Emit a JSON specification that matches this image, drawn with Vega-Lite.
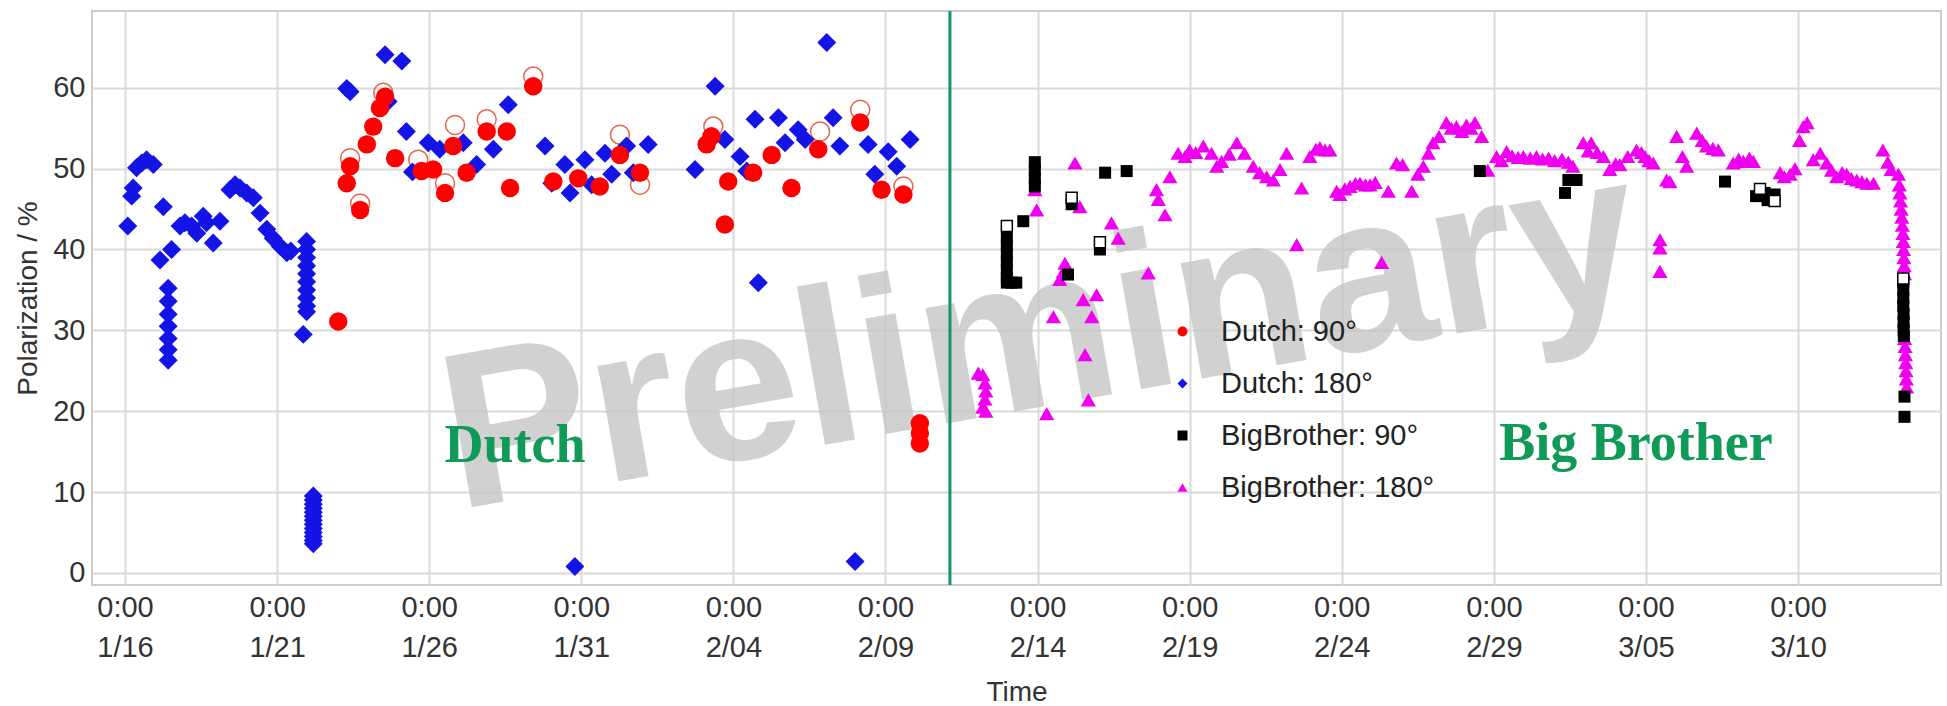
{
  "$schema": "https://vega.github.io/schema/vega-lite/v6.json",
  "autosize": "none",
  "width": 1849,
  "height": 574,
  "padding": {"left": 92, "top": 11, "right": 6, "bottom": 121},
  "background": "white",
  "datasets": {
    "pts": [
      {"series":"D180","day":0.09,"pol":42.9},{"series":"D180","day":0.22,"pol":46.6},{"series":"D180","day":0.27,"pol":47.6},{"series":"D180","day":0.38,"pol":50.1},{"series":"D180","day":0.55,"pol":50.7},{"series":"D180","day":0.71,"pol":51.1},{"series":"D180","day":0.93,"pol":50.5},{"series":"D180","day":1.15,"pol":38.7},{"series":"D180","day":1.26,"pol":45.3},
      {"series":"D180","day":1.42,"pol":35.2},{"series":"D180","day":1.42,"pol":33.6},{"series":"D180","day":1.42,"pol":32.0},{"series":"D180","day":1.42,"pol":30.5},{"series":"D180","day":1.42,"pol":29.0},{"series":"D180","day":1.42,"pol":27.6},{"series":"D180","day":1.42,"pol":26.3},
      {"series":"D180","day":1.53,"pol":40.0},{"series":"D180","day":1.81,"pol":42.9},{"series":"D180","day":1.97,"pol":43.3},{"series":"D180","day":2.19,"pol":42.9},{"series":"D180","day":2.36,"pol":42.0},{"series":"D180","day":2.57,"pol":44.1},{"series":"D180","day":2.68,"pol":43.3},{"series":"D180","day":2.90,"pol":40.8},{"series":"D180","day":3.12,"pol":43.5},{"series":"D180","day":3.45,"pol":47.4},{"series":"D180","day":3.62,"pol":48.0},{"series":"D180","day":3.78,"pol":47.6},{"series":"D180","day":4.00,"pol":47.0},{"series":"D180","day":4.22,"pol":46.4},{"series":"D180","day":4.44,"pol":44.5},{"series":"D180","day":4.66,"pol":42.5},{"series":"D180","day":4.87,"pol":41.4},{"series":"D180","day":5.10,"pol":40.4},{"series":"D180","day":5.32,"pol":39.6},{"series":"D180","day":5.45,"pol":39.8},
      {"series":"D180","day":5.97,"pol":41.0},{"series":"D180","day":5.97,"pol":40.0},{"series":"D180","day":5.97,"pol":39.0},{"series":"D180","day":5.97,"pol":38.0},{"series":"D180","day":5.97,"pol":37.0},{"series":"D180","day":5.97,"pol":36.0},{"series":"D180","day":5.97,"pol":35.0},{"series":"D180","day":5.97,"pol":34.0},{"series":"D180","day":5.97,"pol":33.0},{"series":"D180","day":5.97,"pol":32.3},{"series":"D180","day":5.86,"pol":29.5},
      {"series":"D180","day":6.19,"pol":9.5},{"series":"D180","day":6.19,"pol":9.0},{"series":"D180","day":6.19,"pol":8.5},{"series":"D180","day":6.19,"pol":8.0},{"series":"D180","day":6.19,"pol":7.5},{"series":"D180","day":6.19,"pol":7.0},{"series":"D180","day":6.19,"pol":6.5},{"series":"D180","day":6.19,"pol":6.0},{"series":"D180","day":6.19,"pol":5.5},{"series":"D180","day":6.19,"pol":5.0},{"series":"D180","day":6.19,"pol":4.5},{"series":"D180","day":6.19,"pol":4.0},{"series":"D180","day":6.19,"pol":3.6},
      {"series":"D180","day":7.29,"pol":59.9},{"series":"D180","day":7.40,"pol":59.5},{"series":"D180","day":8.55,"pol":64.1},{"series":"D180","day":9.10,"pol":63.3},{"series":"D180","day":8.65,"pol":58.3},{"series":"D180","day":9.25,"pol":54.6},{"series":"D180","day":9.45,"pol":49.6},{"series":"D180","day":9.97,"pol":53.2},{"series":"D180","day":10.35,"pol":52.4},{"series":"D180","day":11.12,"pol":53.2},{"series":"D180","day":11.56,"pol":50.5},{"series":"D180","day":12.11,"pol":52.4},{"series":"D180","day":12.60,"pol":57.9},{"series":"D180","day":13.81,"pol":52.8},{"series":"D180","day":14.03,"pol":48.2},{"series":"D180","day":14.46,"pol":50.5},{"series":"D180","day":14.63,"pol":47.0},{"series":"D180","day":15.12,"pol":51.1},{"series":"D180","day":15.34,"pol":48.0},{"series":"D180","day":15.78,"pol":51.9},{"series":"D180","day":16.00,"pol":49.3},{"series":"D180","day":16.49,"pol":52.8},{"series":"D180","day":16.71,"pol":49.5},{"series":"D180","day":17.20,"pol":53.0},{"series":"D180","day":18.74,"pol":49.9},{"series":"D180","day":19.40,"pol":60.2},{"series":"D180","day":19.72,"pol":53.6},{"series":"D180","day":20.22,"pol":51.5},{"series":"D180","day":20.44,"pol":49.7},{"series":"D180","day":20.71,"pol":56.1},{"series":"D180","day":20.82,"pol":35.9},{"series":"D180","day":21.48,"pol":56.3},{"series":"D180","day":21.70,"pol":53.2},{"series":"D180","day":22.13,"pol":54.8},{"series":"D180","day":22.36,"pol":53.6},{"series":"D180","day":23.07,"pol":65.6},{"series":"D180","day":23.28,"pol":56.3},{"series":"D180","day":23.50,"pol":52.8},{"series":"D180","day":24.43,"pol":53.0},{"series":"D180","day":24.65,"pol":49.3},{"series":"D180","day":25.09,"pol":52.1},{"series":"D180","day":25.37,"pol":50.3},{"series":"D180","day":25.81,"pol":53.6},{"series":"D180","day":14.79,"pol":0.8},{"series":"D180","day":24.00,"pol":1.4},
      {"series":"D90","day":7.01,"pol":31.1},{"series":"D90","day":7.29,"pol":48.2},{"series":"D90","day":7.40,"pol":50.3},{"series":"D90","day":7.73,"pol":44.9},{"series":"D90","day":7.95,"pol":53.0},{"series":"D90","day":8.16,"pol":55.2},{"series":"D90","day":8.38,"pol":57.5},{"series":"D90","day":8.55,"pol":58.9},{"series":"D90","day":8.88,"pol":51.3},{"series":"D90","day":9.75,"pol":49.7},{"series":"D90","day":10.13,"pol":49.9},{"series":"D90","day":10.52,"pol":47.0},{"series":"D90","day":10.79,"pol":52.8},{"series":"D90","day":11.23,"pol":49.5},{"series":"D90","day":11.89,"pol":54.6},{"series":"D90","day":12.55,"pol":54.6},{"series":"D90","day":12.66,"pol":47.6},{"series":"D90","day":13.42,"pol":60.2},{"series":"D90","day":14.08,"pol":48.4},{"series":"D90","day":14.90,"pol":48.8},{"series":"D90","day":15.61,"pol":47.8},{"series":"D90","day":16.27,"pol":51.7},{"series":"D90","day":16.93,"pol":49.5},{"series":"D90","day":19.12,"pol":53.0},{"series":"D90","day":19.28,"pol":54.0},{"series":"D90","day":19.83,"pol":48.4},{"series":"D90","day":19.72,"pol":43.1},{"series":"D90","day":20.65,"pol":49.5},{"series":"D90","day":21.26,"pol":51.7},{"series":"D90","day":21.91,"pol":47.6},{"series":"D90","day":22.79,"pol":52.4},{"series":"D90","day":24.17,"pol":55.7},{"series":"D90","day":24.87,"pol":47.4},{"series":"D90","day":25.59,"pol":46.8},{"series":"D90","day":26.13,"pol":18.5},{"series":"D90","day":26.13,"pol":17.3},{"series":"D90","day":26.13,"pol":16.0},
      {"series":"B180","day":28.05,"pol":24.7},{"series":"B180","day":28.2,"pol":24.5},{"series":"B180","day":28.27,"pol":23.5},{"series":"B180","day":28.3,"pol":22.5},{"series":"B180","day":28.27,"pol":21.5},{"series":"B180","day":28.2,"pol":20.5},{"series":"B180","day":28.3,"pol":20.0},{"series":"B180","day":30.30,"pol":19.7},{"series":"B180","day":31.67,"pol":21.4},{"series":"B180","day":31.56,"pol":27.0},{"series":"B180","day":30.52,"pol":31.7},{"series":"B180","day":31.50,"pol":33.8},{"series":"B180","day":31.94,"pol":34.4},{"series":"B180","day":31.78,"pol":31.7},{"series":"B180","day":30.73,"pol":36.3},{"series":"B180","day":30.90,"pol":38.3},{"series":"B180","day":30.85,"pol":37.3},{"series":"B180","day":29.97,"pol":44.9},{"series":"B180","day":29.91,"pol":47.4},{"series":"B180","day":31.23,"pol":50.7},{"series":"B180","day":31.39,"pol":45.3},{"series":"B180","day":32.43,"pol":43.3},{"series":"B180","day":32.65,"pol":41.4},{"series":"B180","day":33.64,"pol":37.1},{"series":"B180","day":33.97,"pol":46.2},{"series":"B180","day":33.91,"pol":47.4},{"series":"B180","day":34.19,"pol":44.3},{"series":"B180","day":34.35,"pol":49.0},
      {"series":"B180","day":34.62,"pol":51.9},{"series":"B180","day":34.85,"pol":51.5},{"series":"B180","day":35.00,"pol":52.3},{"series":"B180","day":35.20,"pol":52.0},{"series":"B180","day":35.45,"pol":52.8},{"series":"B180","day":35.72,"pol":51.9},{"series":"B180","day":35.89,"pol":50.3},{"series":"B180","day":36.05,"pol":50.9},{"series":"B180","day":36.30,"pol":51.8},{"series":"B180","day":36.55,"pol":53.2},{"series":"B180","day":36.80,"pol":51.9},{"series":"B180","day":37.09,"pol":50.3},{"series":"B180","day":37.30,"pol":49.5},{"series":"B180","day":37.53,"pol":49.0},{"series":"B180","day":37.75,"pol":48.6},{"series":"B180","day":37.97,"pol":49.9},{"series":"B180","day":38.19,"pol":51.9},{"series":"B180","day":38.52,"pol":40.6},{"series":"B180","day":38.68,"pol":47.6},{"series":"B180","day":38.95,"pol":51.5},{"series":"B180","day":39.15,"pol":52.4},{"series":"B180","day":39.28,"pol":52.6},{"series":"B180","day":39.45,"pol":52.3},{"series":"B180","day":39.61,"pol":52.3},{"series":"B180","day":39.83,"pol":47.2},{"series":"B180","day":39.94,"pol":46.8},{"series":"B180","day":40.10,"pol":47.5},{"series":"B180","day":40.27,"pol":47.8},{"series":"B180","day":40.45,"pol":48.2},{"series":"B180","day":40.60,"pol":48.2},{"series":"B180","day":40.78,"pol":48.0},{"series":"B180","day":40.93,"pol":48.0},{"series":"B180","day":41.10,"pol":48.3},{"series":"B180","day":41.31,"pol":38.4},{"series":"B180","day":41.53,"pol":47.2},{"series":"B180","day":41.80,"pol":50.7},{"series":"B180","day":42.00,"pol":50.5},{"series":"B180","day":42.30,"pol":47.2},{"series":"B180","day":42.50,"pol":49.3},{"series":"B180","day":42.68,"pol":50.3},{"series":"B180","day":42.85,"pol":51.9},{"series":"B180","day":43.00,"pol":53.2},{"series":"B180","day":43.20,"pol":54.0},{"series":"B180","day":43.44,"pol":55.7},{"series":"B180","day":43.60,"pol":55.0},{"series":"B180","day":43.77,"pol":55.2},{"series":"B180","day":43.95,"pol":54.6},{"series":"B180","day":44.10,"pol":55.4},{"series":"B180","day":44.25,"pol":55.0},{"series":"B180","day":44.38,"pol":55.7},{"series":"B180","day":44.60,"pol":54.0},{"series":"B180","day":44.80,"pol":49.8},{"series":"B180","day":45.09,"pol":51.5},{"series":"B180","day":45.25,"pol":51.0},{"series":"B180","day":45.42,"pol":52.1},{"series":"B180","day":45.60,"pol":51.6},{"series":"B180","day":45.80,"pol":51.4},{"series":"B180","day":45.97,"pol":51.5},{"series":"B180","day":46.20,"pol":51.3},{"series":"B180","day":46.40,"pol":51.5},{"series":"B180","day":46.60,"pol":51.2},{"series":"B180","day":46.80,"pol":51.3},{"series":"B180","day":47.00,"pol":51.0},{"series":"B180","day":47.24,"pol":51.2},{"series":"B180","day":47.45,"pol":50.8},{"series":"B180","day":47.60,"pol":50.3},{"series":"B180","day":47.94,"pol":53.2},{"series":"B180","day":48.10,"pol":52.2},{"series":"B180","day":48.20,"pol":53.2},{"series":"B180","day":48.40,"pol":52.0},{"series":"B180","day":48.60,"pol":51.5},{"series":"B180","day":48.81,"pol":49.9},{"series":"B180","day":49.00,"pol":50.6},{"series":"B180","day":49.14,"pol":50.5},{"series":"B180","day":49.40,"pol":51.5},{"series":"B180","day":49.69,"pol":52.3},{"series":"B180","day":49.85,"pol":52.0},{"series":"B180","day":49.97,"pol":51.5},{"series":"B180","day":50.10,"pol":51.0},{"series":"B180","day":50.24,"pol":50.7},{"series":"B180","day":50.46,"pol":41.2},{"series":"B180","day":50.46,"pol":40.2},{"series":"B180","day":50.46,"pol":37.3},{"series":"B180","day":50.68,"pol":48.6},{"series":"B180","day":50.79,"pol":48.4},{"series":"B180","day":51.01,"pol":54.0},{"series":"B180","day":51.20,"pol":51.5},{"series":"B180","day":51.34,"pol":50.3},{"series":"B180","day":51.67,"pol":54.4},{"series":"B180","day":51.85,"pol":53.5},{"series":"B180","day":51.99,"pol":52.8},{"series":"B180","day":52.20,"pol":52.5},{"series":"B180","day":52.38,"pol":52.3},{"series":"B180","day":52.87,"pol":50.7},{"series":"B180","day":53.05,"pol":51.2},{"series":"B180","day":53.20,"pol":50.9},{"series":"B180","day":53.40,"pol":51.3},{"series":"B180","day":53.53,"pol":50.9},{"series":"B180","day":54.41,"pol":49.5},{"series":"B180","day":54.55,"pol":49.0},{"series":"B180","day":54.74,"pol":49.3},{"series":"B180","day":54.90,"pol":50.0},{"series":"B180","day":55.05,"pol":53.5},{"series":"B180","day":55.17,"pol":55.2},{"series":"B180","day":55.30,"pol":55.7},{"series":"B180","day":55.50,"pol":51.1},{"series":"B180","day":55.73,"pol":51.9},{"series":"B180","day":55.94,"pol":50.7},{"series":"B180","day":56.10,"pol":49.8},{"series":"B180","day":56.27,"pol":49.0},{"series":"B180","day":56.45,"pol":49.5},{"series":"B180","day":56.60,"pol":49.3},{"series":"B180","day":56.75,"pol":48.8},{"series":"B180","day":56.93,"pol":48.6},{"series":"B180","day":57.10,"pol":48.4},{"series":"B180","day":57.26,"pol":48.2},{"series":"B180","day":57.48,"pol":48.2},{"series":"B180","day":57.79,"pol":52.3},{"series":"B180","day":57.95,"pol":50.8},{"series":"B180","day":58.06,"pol":49.9},{"series":"B180","day":58.30,"pol":49.3},
      {"series":"B180","day":58.33,"pol":48.0},{"series":"B180","day":58.35,"pol":47.0},{"series":"B180","day":58.37,"pol":46.0},{"series":"B180","day":58.39,"pol":45.0},{"series":"B180","day":58.41,"pol":44.0},{"series":"B180","day":58.43,"pol":43.0},{"series":"B180","day":58.45,"pol":42.0},{"series":"B180","day":58.46,"pol":41.0},{"series":"B180","day":58.47,"pol":40.0},{"series":"B180","day":58.48,"pol":39.0},{"series":"B180","day":58.49,"pol":38.0},{"series":"B180","day":58.50,"pol":37.0},{"series":"B180","day":58.50,"pol":29.0},{"series":"B180","day":58.52,"pol":28.0},{"series":"B180","day":58.53,"pol":27.0},{"series":"B180","day":58.54,"pol":26.0},{"series":"B180","day":58.55,"pol":25.0},{"series":"B180","day":58.56,"pol":24.0},{"series":"B180","day":58.57,"pol":23.0},
      {"series":"B90","day":28.99,"pol":41.5},{"series":"B90","day":28.99,"pol":40.5},{"series":"B90","day":28.99,"pol":39.5},{"series":"B90","day":28.99,"pol":38.5},{"series":"B90","day":28.99,"pol":37.5},{"series":"B90","day":28.99,"pol":36.5},{"series":"B90","day":28.99,"pol":35.9},{"series":"B90","day":29.15,"pol":35.9},{"series":"B90","day":29.30,"pol":35.9},{"series":"B90","day":29.53,"pol":43.5},{"series":"B90","day":29.91,"pol":50.8},{"series":"B90","day":29.91,"pol":49.8},{"series":"B90","day":29.91,"pol":48.8},{"series":"B90","day":29.91,"pol":47.8},{"series":"B90","day":31.12,"pol":45.6},{"series":"B90","day":31.0,"pol":36.9},{"series":"B90","day":32.05,"pol":40.0},{"series":"B90","day":32.22,"pol":49.5},{"series":"B90","day":32.93,"pol":49.7},{"series":"B90","day":44.54,"pol":49.7},{"series":"B90","day":47.34,"pol":47.0},{"series":"B90","day":47.45,"pol":48.6},{"series":"B90","day":47.72,"pol":48.6},{"series":"B90","day":52.60,"pol":48.4},{"series":"B90","day":53.62,"pol":46.6},{"series":"B90","day":53.90,"pol":47.0},{"series":"B90","day":54.23,"pol":46.8},{"series":"B90","day":54.00,"pol":46.1},
      {"series":"B90","day":58.46,"pol":36.0},{"series":"B90","day":58.46,"pol":35.0},{"series":"B90","day":58.46,"pol":34.0},{"series":"B90","day":58.46,"pol":33.0},{"series":"B90","day":58.47,"pol":32.0},{"series":"B90","day":58.47,"pol":31.0},{"series":"B90","day":58.47,"pol":30.0},{"series":"B90","day":58.48,"pol":29.3},{"series":"B90","day":58.50,"pol":21.8},{"series":"B90","day":58.50,"pol":19.3}
    ],
    "openc": [
      {"day":7.40,"pol":51.3},{"day":7.73,"pol":45.7},{"day":8.49,"pol":59.4},{"day":9.64,"pol":51.1},{"day":10.52,"pol":48.2},{"day":10.85,"pol":55.4},{"day":11.89,"pol":56.1},{"day":13.42,"pol":61.4},{"day":16.27,"pol":54.2},{"day":16.93,"pol":48.0},{"day":19.34,"pol":55.2},{"day":22.85,"pol":54.6},{"day":24.17,"pol":57.3},{"day":25.59,"pol":47.8}
    ],
    "opens": [
      {"day":28.99,"pol":42.9},{"day":31.12,"pol":46.4},{"day":32.05,"pol":40.9},{"day":53.75,"pol":47.5},{"day":54.23,"pol":46.0},{"day":58.46,"pol":36.4}
    ],
    "divider": [{"day":27.12}],
    "marks": [{"label":"Preliminary","day":30.5,"pol":20.8}],
    "sections": [{"label":"Dutch","day":12.82,"pol":13.7},{"label":"Big Brother","day":49.67,"pol":14.0}]
  },
  "encoding": {
    "x": {"field": "day", "type": "quantitative", "scale": {"domain": [-1.085, 59.7], "nice": false, "zero": false},
      "axis": {"values": [0,5,10,15,20,25,30,35,40,45,50,55], "labelExpr": "['0:00', ['1/16','1/21','1/26','1/31','2/04','2/09','2/14','2/19','2/24','2/29','3/05','3/10'][round(datum.value/5)]]", "title": "Time"}},
    "y": {"field": "pol", "type": "quantitative", "scale": {"domain": [-1.5, 69.5], "nice": false, "zero": false},
      "axis": {"values": [0,10,20,30,40,50,60], "title": "Polarization / %"}}
  },
  "layer": [
    {
      "data": {"name": "marks"},
      "mark": {"type": "text", "font": "Liberation Sans", "fontWeight": "bold", "fontSize": 222, "angle": -10, "align": "center", "baseline": "alphabetic", "color": "#c6c6c6", "opacity": 0.8},
      "encoding": {"text": {"field": "label"}}
    },
    {
      "data": {"name": "divider"},
      "mark": {"type": "rule", "color": "#17936a", "strokeWidth": 3},
      "encoding": {"x": {"field": "day", "type": "quantitative"}, "y": null}
    },
    {
      "data": {"name": "openc"},
      "mark": {"type": "point", "shape": "circle", "filled": false, "color": "#e0583c", "strokeWidth": 1.5, "size": 360, "opacity": 0.9}
    },
    {
      "data": {"name": "pts"},
      "transform": [{"filter": "datum.series === 'D180'"}],
      "mark": {"type": "point", "filled": true, "opacity": 1, "strokeWidth": 0, "size": 360},
      "encoding": {
        "color": {"field": "series", "type": "nominal",
          "scale": {"domain": ["D90","D180","B90","B180"], "range": ["#ff0000","#1414e6","#000000","#f000f0"]},
          "legend": {"labelExpr": "{'D90':'Dutch: 90°','D180':'Dutch: 180°','B90':'BigBrother: 90°','B180':'BigBrother: 180°'}[datum.label]"}},
        "shape": {"field": "series", "type": "nominal",
          "scale": {"domain": ["D90","D180","B90","B180"], "range": ["circle","diamond","square","triangle-up"]}}
      }
    },
    {
      "data": {"name": "pts"},
      "transform": [{"filter": "datum.series === 'D90'"}],
      "mark": {"type": "point", "filled": true, "opacity": 1, "strokeWidth": 0, "size": 340},
      "encoding": {
        "color": {"field": "series", "type": "nominal"},
        "shape": {"field": "series", "type": "nominal"}
      }
    },
    {
      "data": {"name": "pts"},
      "transform": [{"filter": "datum.series === 'B180'"}],
      "mark": {"type": "point", "filled": true, "opacity": 1, "strokeWidth": 0, "size": 230},
      "encoding": {
        "color": {"field": "series", "type": "nominal"},
        "shape": {"field": "series", "type": "nominal"}
      }
    },
    {
      "data": {"name": "pts"},
      "transform": [{"filter": "datum.series === 'B90'"}],
      "mark": {"type": "point", "filled": true, "opacity": 1, "strokeWidth": 0, "size": 144},
      "encoding": {
        "color": {"field": "series", "type": "nominal"},
        "shape": {"field": "series", "type": "nominal"}
      }
    },
    {
      "data": {"name": "opens"},
      "mark": {"type": "point", "shape": "square", "filled": true, "color": "white", "stroke": "black", "strokeWidth": 1.5, "size": 120, "opacity": 1}
    },
    {
      "data": {"name": "sections"},
      "mark": {"type": "text", "font": "Liberation Serif", "fontWeight": "bold", "fontSize": 54, "align": "center", "baseline": "alphabetic", "color": "#109a57"},
      "encoding": {"text": {"field": "label"}}
    }
  ],
  "config": {
    "view": {"stroke": "#cccccc", "strokeWidth": 2},
    "axis": {
      "grid": true, "gridColor": "#dadada", "gridWidth": 2,
      "ticks": false, "domain": false,
      "labelFont": "Liberation Sans", "labelFontSize": 29, "labelColor": "#333333",
      "titleFont": "Liberation Sans", "titleFontSize": 28, "titleFontWeight": "normal", "titleColor": "#333333"
    },
    "axisX": {"labelLineHeight": 40, "labelPadding": 8, "titlePadding": 16, "labelFlush": false},
    "axisY": {"labelPadding": 7, "titlePadding": 10},
    "legend": {
      "orient": "none", "legendX": 1076, "legendY": 306, "title": null, "padding": 0,
      "labelFont": "Liberation Sans", "labelFontSize": 29, "labelColor": "#222222", "labelLimit": 0,
      "labelOffset": 24, "rowPadding": 22, "symbolSize": 100, "symbolStrokeWidth": 0
    }
  }
}
